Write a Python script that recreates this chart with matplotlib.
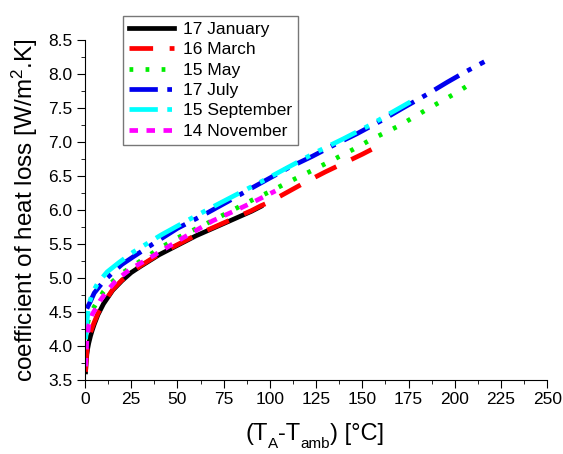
import matplotlib
matplotlib.use('Agg')
import matplotlib.pyplot as plt
from matplotlib.ticker import MultipleLocator

plt.rcParams['font.family'] = ['Liberation Sans', 'DejaVu Sans']
plt.rcParams['mathtext.fontset'] = 'custom'
plt.rcParams['mathtext.rm'] = 'Liberation Sans'
plt.rcParams['mathtext.it'] = 'Liberation Sans'
plt.rcParams['mathtext.default'] = 'regular'

# 17 January
jan_x = [0.3, 0.6, 1, 1.5, 2, 3, 4, 5, 7, 10, 15, 20, 25, 30, 40, 50, 60, 70, 80, 90, 95]
jan_y = [3.62, 3.75, 3.88, 3.97, 4.04, 4.15, 4.24, 4.32, 4.46, 4.62, 4.82, 4.96, 5.08, 5.17,
         5.34, 5.48, 5.62, 5.74, 5.86, 5.98, 6.05]
# 16 March
mar_x = [0.3, 0.6, 1, 1.5, 2, 3, 4, 5, 7, 10, 15, 20, 25, 30, 40, 50, 60, 70, 80, 90, 95,
         100, 110, 120, 130, 140, 150, 155]
mar_y = [3.62, 3.78, 3.92, 4.02, 4.09, 4.2, 4.28, 4.35, 4.48, 4.63, 4.83, 4.97, 5.08, 5.18,
         5.35, 5.49, 5.63, 5.75, 5.87, 5.99, 6.06, 6.12, 6.27, 6.42, 6.56, 6.69, 6.82, 6.89]
# 15 May
may_x = [0.3, 1, 2, 4, 7, 10, 15, 20, 30, 40, 50, 65, 80, 90, 100, 110, 125, 135, 145,
         155, 170, 185, 200, 210]
may_y = [4.1, 4.28, 4.4, 4.53, 4.67, 4.8, 4.95, 5.07, 5.25, 5.43, 5.59, 5.79, 6.0, 6.14,
         6.27, 6.41, 6.61, 6.75, 6.89, 7.04, 7.24, 7.48, 7.71, 7.88]
# 17 July
jul_x = [1, 3, 5, 10, 15, 20, 26, 35, 50, 65, 77, 90, 100, 110, 123, 135, 147, 160, 172,
         185, 196, 205, 216]
jul_y = [4.55, 4.66, 4.78, 4.95, 5.08, 5.2, 5.31, 5.47, 5.73, 5.94, 6.12, 6.32, 6.47, 6.62,
         6.79, 6.96, 7.12, 7.31, 7.5, 7.7, 7.88, 8.02, 8.18]
# 15 September
sep_x = [0.3, 1, 2, 4, 7, 12, 18, 26, 35, 41, 55, 68, 80, 97, 110, 125, 140, 155, 165, 176]
sep_y = [4.1, 4.35, 4.6, 4.78, 4.93, 5.09, 5.22, 5.38, 5.53, 5.63, 5.84, 6.03, 6.2, 6.44,
         6.63, 6.85, 7.05, 7.26, 7.42, 7.59]
# 14 November
nov_x = [0.3, 1, 2, 4, 6.5, 8, 12, 17, 25, 33.5, 45, 53, 62, 69, 82, 92, 103]
nov_y = [3.7, 4.1, 4.3, 4.47, 4.58, 4.66, 4.81, 4.97, 5.14, 5.27, 5.46, 5.59, 5.73, 5.84,
         6.0, 6.13, 6.28]

fig = plt.figure(figsize=(5.63, 4.54), dpi=100)
ax = fig.add_axes([0.151, 0.163, 0.821, 0.749])

lw = 3.4
ax.plot(jan_x, jan_y, color='black', lw=lw, label='17 January')
ax.plot(mar_x, mar_y, color='red', lw=lw, dashes=(5, 3.5), label='16 March')
ax.plot(may_x, may_y, color='#00ee00', lw=lw, dashes=(0.8, 2.6), label='15 May')
ax.plot(jul_x, jul_y, color='#0000ee', lw=lw, dashes=(6, 2, 1, 2), label='17 July')
ax.plot(sep_x, sep_y, color='cyan', lw=lw, dashes=(6, 2, 1, 2, 1, 2), label='15 September')
ax.plot(nov_x, nov_y, color='magenta', lw=lw, dashes=(1.8, 1.8), label='14 November')

ax.set_xlim(0, 250)
ax.set_ylim(3.5, 8.5)
ax.xaxis.set_major_locator(MultipleLocator(25))
ax.xaxis.set_minor_locator(MultipleLocator(12.5))
ax.yaxis.set_major_locator(MultipleLocator(0.5))
ax.yaxis.set_minor_locator(MultipleLocator(0.25))
ax.yaxis.set_major_formatter(matplotlib.ticker.FormatStrFormatter('%.1f'))
ax.spines['top'].set_visible(False)
ax.spines['right'].set_visible(False)
ax.tick_params(which='major', direction='out', length=6, labelsize=12.5, pad=3)
ax.tick_params(which='minor', direction='out', length=3)

ax.set_ylabel('coefficient of heat loss [W/m$^2$.K]', fontsize=17.5, labelpad=6)

# x label built from pieces so the subscripts come out as large as in the original
pieces = [('(T', 17, 0), ('A', 11, -8), ('-T', 17, 0), ('amb', 11, -8), (') [°C]', 17, 0)]
renderer = fig.canvas.get_renderer()
texts = []
x_pix = 0.0
for s, size, dy in pieces:
    t = fig.text(0, 0, s, fontsize=size, va='baseline', ha='left')
    w = t.get_window_extent(renderer).width
    texts.append((t, x_pix, dy))
    x_pix += w
start = 315 - x_pix / 2
for t, xo, dy in texts:
    t.set_position(((start + xo) / 563, (454 - 440 + dy) / 454))

leg = ax.legend(loc='upper left', bbox_to_anchor=(114 / 563, 1 - 7 / 454),
                bbox_transform=fig.transFigure, fontsize=12.5, frameon=True,
                fancybox=False, edgecolor='#555555', handlelength=2.6,
                labelspacing=0.3, borderpad=0.35, handletextpad=0.5)
leg.get_frame().set_linewidth(1.0)

fig.savefig('out.png', dpi=100)
